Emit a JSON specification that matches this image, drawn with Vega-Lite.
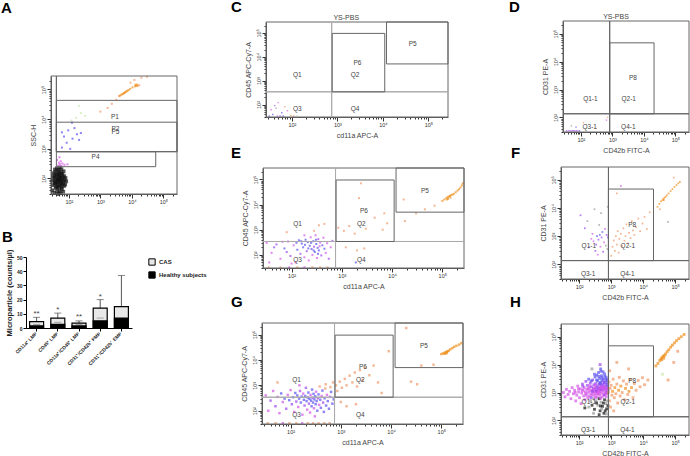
{"$schema":"https://vega.github.io/schema/vega-lite/v6.json","padding":{"left":1,"top":-1,"right":0,"bottom":0},"background":"white","bounds":"flush","spacing":236,
"config":{"view":{"stroke":null},"range":{"category":["#5a50f0","#999999","#111111","#cfe8b0","#d455e8","#f0901e","#9b45f0","#f0986a"]},"axis":{"grid":false,"labelFont":"Liberation Sans","labelFontSize":5.5,"labelColor":"#333","titleFont":"Liberation Sans","titleFontWeight":"normal","titleFontSize":7,"titleColor":"#444","tickColor":"#333","domainColor":"#555","labelPadding":1,"labelOverlap":false,"titlePadding":5},"axisX":{"titlePadding":3.5},"title":{"font":"Liberation Sans","fontSize":15,"fontWeight":"bold","anchor":"start","frame":"group","offset":0,"color":"#000","baseline":"alphabetic"},"text":{"font":"Liberation Sans"}},
"datasets":{
"gA":[{"x":27,"x2":270000,"y":30,"y2":285000,"k":"f"},{"x":40,"x2":40,"y":800,"y2":285000,"k":"g"},{"x":40,"x2":270000,"y":800,"y2":43000,"k":"g"},{"x":40,"x2":270000,"y":800,"y2":7900,"k":"g"},{"x":40,"x2":57000,"y":250,"y2":800,"k":"g"}],
"gC":[{"x":27,"x2":270000,"y":30,"y2":285000,"k":"f"},{"x":750,"x2":750,"y":30,"y2":285000,"k":"q"},{"x":27,"x2":270000,"y":340,"y2":340,"k":"q"},{"x":770,"x2":11000,"y":340,"y2":95000,"k":"g"},{"x":12000,"x2":270000,"y":5000,"y2":285000,"k":"g"}],
"gD":[{"x":27,"x2":270000,"y":30,"y2":285000,"k":"f"},{"x":820,"x2":820,"y":30,"y2":285000,"k":"g"},{"x":27,"x2":270000,"y":135,"y2":135,"k":"g"},{"x":820,"x2":21000,"y":135,"y2":47000,"k":"g"}],
"tA":[{"x":2900,"y":12000,"t":"P1"},{"x":3000,"y":4700,"t":"P2"},{"x":3000,"y":3700,"t":"P5"},{"x":700,"y":550,"t":"P4"}],
"tC":[{"x":131,"y":1660,"t":"Q1"},{"x":2450,"y":1660,"t":"Q2"},{"x":131,"y":65,"t":"Q3"},{"x":2450,"y":65,"t":"Q4"},{"x":2760,"y":5500,"t":"P6"},{"x":45000,"y":35000,"t":"P5"}],
"tD":[{"x":200,"y":450,"t":"Q1-1"},{"x":3300,"y":450,"t":"Q2-1"},{"x":190,"y":45,"t":"Q3-1"},{"x":3200,"y":45,"t":"Q4-1"},{"x":4500,"y":2500,"t":"P8"}],
"pA":[{"x":30,"y":40,"g":"k"},{"x":34,"y":33,"g":"k"},{"x":38,"y":48,"g":"k"},{"x":42,"y":35,"g":"k"},{"x":46,"y":30,"g":"k"},{"x":50,"y":38,"g":"k"},{"x":55,"y":32,"g":"k"},{"x":60,"y":44,"g":"k"},{"x":66,"y":36,"g":"k"},{"x":31,"y":60,"g":"k"},{"x":36,"y":66,"g":"k"},{"x":40,"y":55,"g":"k"},{"x":44,"y":62,"g":"k"},{"x":48,"y":52,"g":"k"},{"x":53,"y":58,"g":"k"},{"x":58,"y":50,"g":"k"},{"x":63,"y":64,"g":"k"},{"x":70,"y":56,"g":"k"},{"x":76,"y":62,"g":"k"},{"x":30,"y":85,"g":"k"},{"x":35,"y":78,"g":"k"},{"x":39,"y":92,"g":"k"},{"x":43,"y":74,"g":"k"},{"x":47,"y":88,"g":"k"},{"x":51,"y":72,"g":"k"},{"x":56,"y":82,"g":"k"},{"x":61,"y":94,"g":"k"},{"x":67,"y":76,"g":"k"},{"x":73,"y":88,"g":"k"},{"x":82,"y":80,"g":"k"},{"x":32,"y":112,"g":"k"},{"x":36,"y":104,"g":"k"},{"x":41,"y":125,"g":"k"},{"x":45,"y":100,"g":"k"},{"x":49,"y":116,"g":"k"},{"x":54,"y":106,"g":"k"},{"x":59,"y":130,"g":"k"},{"x":64,"y":110,"g":"k"},{"x":71,"y":120,"g":"k"},{"x":78,"y":104,"g":"k"},{"x":33,"y":150,"g":"k"},{"x":37,"y":165,"g":"k"},{"x":42,"y":140,"g":"k"},{"x":46,"y":172,"g":"k"},{"x":50,"y":148,"g":"k"},{"x":55,"y":160,"g":"k"},{"x":62,"y":145,"g":"k"},{"x":68,"y":175,"g":"k"},{"x":36,"y":200,"g":"k"},{"x":41,"y":220,"g":"k"},{"x":47,"y":195,"g":"k"},{"x":52,"y":235,"g":"k"},{"x":58,"y":205,"g":"k"},{"x":44,"y":84,"g":"k"},{"x":38,"y":72,"g":"k"},{"x":52,"y":95,"g":"k"},{"x":57,"y":68,"g":"k"},{"x":48,"y":130,"g":"k"},{"x":35,"y":125,"g":"k"},{"x":43,"y":46,"g":"k"},
{"x":45,"y":270,"g":"m"},{"x":52,"y":300,"g":"m"},{"x":58,"y":260,"g":"m"},{"x":48,"y":340,"g":"m"},{"x":62,"y":320,"g":"m"},{"x":42,"y":420,"g":"m"},{"x":55,"y":380,"g":"m"},{"x":72,"y":290,"g":"m"},{"x":90,"y":300,"g":"m"},{"x":50,"y":520,"g":"m"},
{"x":60,"y":1100,"g":"b"},{"x":85,"y":1600,"g":"b"},{"x":110,"y":1000,"g":"b"},{"x":70,"y":2600,"g":"b"},{"x":130,"y":2200,"g":"b"},{"x":180,"y":3100,"g":"b"},{"x":95,"y":4200,"g":"b"},{"x":150,"y":5000,"g":"b"},{"x":60,"y":3600,"g":"b"},{"x":210,"y":2000,"g":"b"},{"x":125,"y":7600,"g":"b"},{"x":240,"y":3400,"g":"b"},
{"x":170,"y":11000,"g":"l"},{"x":240,"y":16000,"g":"l"},{"x":330,"y":13000,"g":"l"},{"x":210,"y":28000,"g":"l"},{"x":120,"y":9000,"g":"l"},
{"x":1000,"y":18000,"g":"s"},{"x":1700,"y":24000,"g":"s"},{"x":2300,"y":33000,"g":"s"},{"x":3200,"y":45000,"g":"s"},{"x":3900,"y":60000,"g":"s"},{"x":9000,"y":170000,"g":"s"},{"x":12000,"y":210000,"g":"s"},{"x":20000,"y":250000,"g":"s"},{"x":17000,"y":140000,"g":"s"},{"x":30000,"y":270000,"g":"s"},
{"x":4200,"y":62000,"g":"o"},{"x":4600,"y":66000,"g":"o"},{"x":5000,"y":70000,"g":"o"},{"x":5300,"y":72000,"g":"o"},{"x":5600,"y":76000,"g":"o"},{"x":6000,"y":78000,"g":"o"},{"x":6300,"y":83000,"g":"o"},{"x":6700,"y":86000,"g":"o"},{"x":7200,"y":90000,"g":"o"},{"x":7800,"y":96000,"g":"o"},{"x":8800,"y":105000,"g":"o"},{"x":10500,"y":118000,"g":"o"},{"x":12500,"y":128000,"g":"o"},{"x":13500,"y":135000,"g":"o"},{"x":14500,"y":145000,"g":"o"},{"x":13000,"y":145000,"g":"o"},{"x":15000,"y":130000,"g":"o"}],
"pC":[{"x":35,"y":60,"g":"m"},{"x":42,"y":90,"g":"p"},{"x":50,"y":120,"g":"m"},{"x":60,"y":45,"g":"b"},{"x":38,"y":38,"g":"b"},{"x":55,"y":33,"g":"p"},{"x":70,"y":80,"g":"s"},{"x":45,"y":70,"g":"g"},{"x":95,"y":35,"g":"o"},{"x":80,"y":55,"g":"m"},{"x":32,"y":33,"g":"b"},{"x":48,"y":33,"g":"m"},{"x":65,"y":33,"g":"b"},{"x":110,"y":33,"g":"s"},{"x":130,"y":35,"g":"l"}],
"pD":[{"x":35,"y":33,"g":"p"},{"x":40,"y":33,"g":"m"},{"x":45,"y":33,"g":"b"},{"x":50,"y":33,"g":"m"},{"x":55,"y":33,"g":"p"},{"x":60,"y":33,"g":"b"},{"x":65,"y":33,"g":"m"},{"x":72,"y":33,"g":"p"},{"x":80,"y":33,"g":"m"},{"x":90,"y":33,"g":"b"},{"x":50,"y":50,"g":"g"},{"x":70,"y":45,"g":"b"},{"x":120,"y":65,"g":"s"},{"x":300,"y":40,"g":"s"},{"x":650,"y":80,"g":"m"},{"x":700,"y":100,"g":"s"},{"x":150,"y":40,"g":"l"}],
"pE":[{"x":32,"y":300,"g":"m"},{"x":40,"y":120,"g":"m"},{"x":50,"y":260,"g":"p"},{"x":60,"y":70,"g":"m"},{"x":72,"y":180,"g":"b"},{"x":85,"y":340,"g":"m"},{"x":95,"y":90,"g":"p"},{"x":110,"y":240,"g":"m"},{"x":120,"y":50,"g":"m"},{"x":130,"y":160,"g":"b"},{"x":140,"y":380,"g":"b"},{"x":150,"y":110,"g":"p"},{"x":160,"y":280,"g":"b"},{"x":170,"y":200,"g":"b"},{"x":180,"y":80,"g":"m"},{"x":190,"y":400,"g":"b"},{"x":200,"y":140,"g":"p"},{"x":210,"y":320,"g":"b"},{"x":220,"y":60,"g":"m"},{"x":230,"y":230,"g":"b"},{"x":240,"y":500,"g":"m"},{"x":250,"y":170,"g":"b"},{"x":260,"y":100,"g":"m"},{"x":270,"y":350,"g":"b"},{"x":280,"y":210,"g":"p"},{"x":290,"y":130,"g":"b"},{"x":300,"y":600,"g":"m"},{"x":310,"y":270,"g":"b"},{"x":320,"y":75,"g":"m"},{"x":330,"y":190,"g":"b"},{"x":340,"y":420,"g":"p"},{"x":350,"y":150,"g":"b"},{"x":370,"y":310,"g":"m"},{"x":390,"y":95,"g":"p"},{"x":410,"y":240,"g":"b"},{"x":430,"y":480,"g":"m"},{"x":450,"y":175,"g":"b"},{"x":480,"y":120,"g":"m"},{"x":510,"y":290,"g":"m"},{"x":550,"y":70,"g":"p"},{"x":600,"y":200,"g":"m"},{"x":650,"y":360,"g":"p"},{"x":36,"y":50,"g":"m"},{"x":45,"y":200,"g":"p"},{"x":66,"y":330,"g":"m"},{"x":80,"y":130,"g":"p"},{"x":100,"y":45,"g":"m"},{"x":125,"y":300,"g":"b"},{"x":155,"y":350,"g":"b"},{"x":185,"y":250,"g":"b"},{"x":215,"y":180,"g":"b"},{"x":245,"y":300,"g":"b"},{"x":275,"y":150,"g":"b"},{"x":305,"y":400,"g":"b"},{"x":335,"y":110,"g":"b"},{"x":360,"y":220,"g":"m"},{"x":35,"y":32,"g":"s"},{"x":60,"y":32,"g":"s"},{"x":90,"y":32,"g":"m"},{"x":130,"y":32,"g":"s"},{"x":180,"y":32,"g":"m"},{"x":260,"y":32,"g":"s"},{"x":370,"y":32,"g":"s"},{"x":520,"y":32,"g":"s"},{"x":80,"y":800,"g":"s"},{"x":180,"y":600,"g":"m"},{"x":350,"y":1500,"g":"s"},{"x":450,"y":1700,"g":"s"},{"x":280,"y":900,"g":"s"},{"x":850,"y":1200,"g":"s"},{"x":1100,"y":900,"g":"s"},{"x":1400,"y":1400,"g":"s"},{"x":1800,"y":700,"g":"s"},{"x":3000,"y":1100,"g":"s"},{"x":6500,"y":1000,"g":"s"},{"x":8000,"y":1800,"g":"s"},{"x":2200,"y":18000,"g":"s"},{"x":7000,"y":4500,"g":"s"},{"x":2400,"y":70000,"g":"s"},{"x":4500,"y":3000,"g":"s"},{"x":1200,"y":200,"g":"s"},{"x":2000,"y":150,"g":"s"},{"x":2800,"y":180,"g":"s"},{"x":1900,"y":50,"g":"b"},{"x":18000,"y":2200,"g":"s"},{"x":30000,"y":4500,"g":"s"},{"x":17000,"y":16000,"g":"s"},{"x":45000,"y":6500,"g":"s"},{"x":70000,"y":9000,"g":"s"},
{"x":100000,"y":14000,"g":"o"},{"x":110000,"y":16000,"g":"o"},{"x":120000,"y":18000,"g":"o"},{"x":128000,"y":20000,"g":"o"},{"x":135000,"y":21000,"g":"o"},{"x":142000,"y":22000,"g":"o"},{"x":150000,"y":24000,"g":"o"},{"x":160000,"y":25000,"g":"o"},{"x":170000,"y":27000,"g":"o"},{"x":185000,"y":31000,"g":"o"},{"x":200000,"y":36000,"g":"o"},{"x":215000,"y":41000,"g":"o"},{"x":230000,"y":48000,"g":"o"},{"x":245000,"y":58000,"g":"o"},{"x":255000,"y":70000,"g":"o"},{"x":130000,"y":17000,"g":"o"},{"x":145000,"y":19000,"g":"o"},{"x":125000,"y":16000,"g":"o"}],
"pF":[{"x":110,"y":5500,"g":"p"},{"x":150,"y":1900,"g":"p"},{"x":180,"y":3400,"g":"g"},{"x":200,"y":400,"g":"p"},{"x":240,"y":800,"g":"m"},{"x":260,"y":1200,"g":"m"},{"x":280,"y":650,"g":"m"},{"x":300,"y":9000,"g":"g"},{"x":320,"y":300,"g":"p"},{"x":340,"y":500,"g":"p"},{"x":360,"y":1000,"g":"b"},{"x":380,"y":220,"g":"m"},{"x":400,"y":750,"g":"p"},{"x":420,"y":2500,"g":"g"},{"x":440,"y":1100,"g":"b"},{"x":460,"y":420,"g":"m"},{"x":480,"y":6500,"g":"g"},{"x":500,"y":900,"g":"p"},{"x":530,"y":1400,"g":"b"},{"x":560,"y":280,"g":"p"},{"x":600,"y":600,"g":"m"},{"x":640,"y":1800,"g":"m"},{"x":680,"y":460,"g":"g"},{"x":720,"y":1100,"g":"p"},{"x":760,"y":350,"g":"g"},{"x":790,"y":900,"g":"p"},{"x":780,"y":11000,"g":"g"},{"x":2000,"y":60000,"g":"m"},{"x":1000,"y":200,"g":"s"},{"x":1100,"y":420,"g":"s"},{"x":1200,"y":700,"g":"s"},{"x":1300,"y":300,"g":"s"},{"x":1400,"y":1000,"g":"s"},{"x":1500,"y":500,"g":"s"},{"x":1600,"y":1500,"g":"s"},{"x":1700,"y":260,"g":"s"},{"x":1800,"y":800,"g":"s"},{"x":2000,"y":1200,"g":"s"},{"x":2200,"y":450,"g":"s"},{"x":2400,"y":1900,"g":"s"},{"x":2600,"y":680,"g":"s"},{"x":2800,"y":1000,"g":"s"},{"x":3000,"y":2600,"g":"s"},{"x":3300,"y":560,"g":"s"},{"x":3600,"y":1300,"g":"s"},{"x":4000,"y":850,"g":"s"},{"x":4400,"y":3400,"g":"s"},{"x":4800,"y":1600,"g":"s"},{"x":5300,"y":1100,"g":"s"},{"x":6000,"y":2100,"g":"s"},{"x":7000,"y":4200,"g":"s"},{"x":8000,"y":1500,"g":"s"},{"x":9500,"y":2800,"g":"s"},{"x":11000,"y":4800,"g":"s"},{"x":13000,"y":1800,"g":"s"},{"x":16000,"y":7000,"g":"s"},{"x":1500,"y":33000,"g":"s"},{"x":60000,"y":3200,"g":"g"},{"x":33000,"y":9000,"g":"s"},{"x":90000,"y":120000,"g":"s"},
{"x":28000,"y":11000,"g":"o"},{"x":32000,"y":14000,"g":"o"},{"x":36000,"y":17000,"g":"o"},{"x":40000,"y":19000,"g":"o"},{"x":43000,"y":21000,"g":"o"},{"x":46000,"y":23000,"g":"o"},{"x":50000,"y":25000,"g":"o"},{"x":44000,"y":19000,"g":"o"},{"x":55000,"y":28000,"g":"o"},{"x":62000,"y":33000,"g":"o"},{"x":72000,"y":40000,"g":"o"},{"x":82000,"y":47000,"g":"o"},{"x":95000,"y":56000,"g":"o"},{"x":110000,"y":65000,"g":"o"},{"x":125000,"y":75000,"g":"o"},{"x":140000,"y":85000,"g":"o"}],
"pG":[{"x":32,"y":400,"g":"m"},{"x":36,"y":100,"g":"m"},{"x":40,"y":250,"g":"p"},{"x":45,"y":600,"g":"m"},{"x":50,"y":150,"g":"p"},{"x":55,"y":350,"g":"m"},{"x":60,"y":80,"g":"m"},{"x":65,"y":480,"g":"b"},{"x":70,"y":220,"g":"m"},{"x":76,"y":300,"g":"b"},{"x":82,"y":120,"g":"p"},{"x":88,"y":420,"g":"m"},{"x":94,"y":260,"g":"b"},{"x":100,"y":650,"g":"m"},{"x":106,"y":180,"g":"p"},{"x":112,"y":340,"g":"b"},{"x":118,"y":90,"g":"m"},{"x":124,"y":500,"g":"b"},{"x":130,"y":230,"g":"p"},{"x":136,"y":400,"g":"b"},{"x":142,"y":140,"g":"m"},{"x":148,"y":300,"g":"b"},{"x":154,"y":600,"g":"p"},{"x":160,"y":210,"g":"b"},{"x":166,"y":360,"g":"b"},{"x":172,"y":70,"g":"m"},{"x":178,"y":470,"g":"m"},{"x":184,"y":270,"g":"b"},{"x":190,"y":160,"g":"p"},{"x":196,"y":380,"g":"b"},{"x":202,"y":800,"g":"p"},{"x":208,"y":240,"g":"b"},{"x":214,"y":110,"g":"m"},{"x":220,"y":330,"g":"b"},{"x":226,"y":520,"g":"b"},{"x":232,"y":190,"g":"p"},{"x":238,"y":290,"g":"b"},{"x":244,"y":85,"g":"m"},{"x":250,"y":420,"g":"m"},{"x":256,"y":250,"g":"b"},{"x":262,"y":150,"g":"b"},{"x":268,"y":680,"g":"b"},{"x":274,"y":320,"g":"p"},{"x":280,"y":210,"g":"b"},{"x":286,"y":460,"g":"b"},{"x":292,"y":125,"g":"m"},{"x":298,"y":280,"g":"b"},{"x":304,"y":60,"g":"m"},{"x":310,"y":370,"g":"b"},{"x":316,"y":180,"g":"b"},{"x":322,"y":560,"g":"m"},{"x":330,"y":240,"g":"b"},{"x":340,"y":100,"g":"b"},{"x":350,"y":310,"g":"p"},{"x":360,"y":440,"g":"b"},{"x":370,"y":170,"g":"m"},{"x":380,"y":900,"g":"s"},{"x":390,"y":270,"g":"b"},{"x":400,"y":130,"g":"b"},{"x":415,"y":380,"g":"m"},{"x":430,"y":620,"g":"b"},{"x":445,"y":210,"g":"p"},{"x":460,"y":90,"g":"b"},{"x":475,"y":310,"g":"b"},{"x":490,"y":750,"g":"s"},{"x":510,"y":160,"g":"b"},{"x":530,"y":420,"g":"m"},{"x":550,"y":240,"g":"b"},{"x":580,"y":120,"g":"b"},{"x":610,"y":350,"g":"p"},{"x":640,"y":550,"g":"b"},{"x":680,"y":190,"g":"b"},{"x":720,"y":280,"g":"b"},{"x":500,"y":1100,"g":"s"},{"x":620,"y":850,"g":"s"},{"x":700,"y":1300,"g":"s"},{"x":150,"y":1000,"g":"m"},{"x":55,"y":1300,"g":"s"},{"x":35,"y":32,"g":"s"},{"x":50,"y":32,"g":"s"},{"x":70,"y":32,"g":"m"},{"x":95,"y":32,"g":"s"},{"x":130,"y":32,"g":"s"},{"x":170,"y":32,"g":"m"},{"x":220,"y":32,"g":"s"},{"x":280,"y":32,"g":"s"},{"x":360,"y":32,"g":"s"},{"x":470,"y":32,"g":"s"},{"x":600,"y":32,"g":"s"},{"x":800,"y":1000,"g":"s"},{"x":850,"y":600,"g":"s"},{"x":950,"y":1400,"g":"s"},{"x":1050,"y":800,"g":"s"},{"x":1200,"y":1800,"g":"s"},{"x":1300,"y":1000,"g":"s"},{"x":1500,"y":2400,"g":"s"},{"x":1700,"y":1300,"g":"s"},{"x":1900,"y":3200,"g":"s"},{"x":2100,"y":900,"g":"s"},{"x":2400,"y":4000,"g":"s"},{"x":2700,"y":1600,"g":"s"},{"x":3100,"y":5000,"g":"s"},{"x":3700,"y":2500,"g":"s"},{"x":4500,"y":6000,"g":"s"},{"x":5500,"y":1300,"g":"s"},{"x":6500,"y":500,"g":"s"},{"x":9000,"y":22000,"g":"s"},{"x":1000,"y":220,"g":"s"},{"x":1300,"y":150,"g":"s"},{"x":2000,"y":180,"g":"s"},{"x":25000,"y":1400,"g":"s"},{"x":33000,"y":1100,"g":"s"},{"x":40000,"y":6000,"g":"s"},{"x":20000,"y":180000,"g":"s"},{"x":70000,"y":6500,"g":"s"},
{"x":100000,"y":17000,"g":"o"},{"x":108000,"y":18000,"g":"o"},{"x":116000,"y":19000,"g":"o"},{"x":122000,"y":20000,"g":"o"},{"x":128000,"y":21000,"g":"o"},{"x":134000,"y":22000,"g":"o"},{"x":140000,"y":23000,"g":"o"},{"x":118000,"y":17500,"g":"o"},{"x":128000,"y":18500,"g":"o"},{"x":150000,"y":26000,"g":"o"},{"x":165000,"y":29000,"g":"o"},{"x":180000,"y":33000,"g":"o"},{"x":200000,"y":36000,"g":"o"},{"x":225000,"y":40000,"g":"o"},{"x":250000,"y":46000,"g":"o"}],
"pH":[{"x":32,"y":1000,"g":"m"},{"x":36,"y":700,"g":"m"},{"x":40,"y":1300,"g":"m"},{"x":45,"y":850,"g":"m"},{"x":50,"y":1100,"g":"m"},{"x":55,"y":600,"g":"m"},{"x":60,"y":1500,"g":"m"},{"x":66,"y":900,"g":"m"},{"x":72,"y":1200,"g":"m"},{"x":78,"y":500,"g":"m"},{"x":84,"y":800,"g":"m"},{"x":90,"y":1700,"g":"m"},{"x":96,"y":1050,"g":"m"},{"x":102,"y":650,"g":"m"},{"x":108,"y":1350,"g":"m"},{"x":114,"y":400,"g":"m"},{"x":120,"y":950,"g":"m"},{"x":126,"y":2000,"g":"p"},{"x":132,"y":1250,"g":"m"},{"x":138,"y":750,"g":"m"},{"x":144,"y":1500,"g":"m"},{"x":150,"y":550,"g":"m"},{"x":156,"y":1050,"g":"m"},{"x":162,"y":2500,"g":"p"},{"x":168,"y":800,"g":"m"},{"x":174,"y":1300,"g":"m"},{"x":180,"y":1800,"g":"p"},{"x":186,"y":650,"g":"m"},{"x":192,"y":1000,"g":"m"},{"x":198,"y":3000,"g":"b"},{"x":204,"y":1450,"g":"m"},{"x":210,"y":750,"g":"m"},{"x":216,"y":1150,"g":"m"},{"x":222,"y":2200,"g":"p"},{"x":228,"y":500,"g":"g"},{"x":234,"y":900,"g":"m"},{"x":240,"y":1600,"g":"p"},{"x":246,"y":1200,"g":"m"},{"x":252,"y":350,"g":"k"},{"x":258,"y":800,"g":"m"},{"x":264,"y":2800,"g":"p"},{"x":270,"y":1000,"g":"m"},{"x":276,"y":1400,"g":"p"},{"x":282,"y":600,"g":"g"},{"x":288,"y":1900,"g":"p"},{"x":294,"y":1100,"g":"m"},{"x":300,"y":250,"g":"k"},{"x":306,"y":800,"g":"m"},{"x":312,"y":3600,"g":"b"},{"x":318,"y":1300,"g":"m"},{"x":324,"y":950,"g":"m"},{"x":330,"y":2100,"g":"p"},{"x":336,"y":500,"g":"g"},{"x":342,"y":1500,"g":"p"},{"x":348,"y":1100,"g":"m"},{"x":354,"y":4200,"g":"b"},{"x":360,"y":700,"g":"m"},{"x":366,"y":1700,"g":"p"},{"x":372,"y":1200,"g":"m"},{"x":378,"y":2600,"g":"b"},{"x":384,"y":350,"g":"g"},{"x":390,"y":900,"g":"m"},{"x":396,"y":1400,"g":"p"},{"x":402,"y":5200,"g":"b"},{"x":408,"y":1000,"g":"m"},{"x":414,"y":2000,"g":"p"},{"x":420,"y":600,"g":"k"},{"x":426,"y":1250,"g":"p"},{"x":432,"y":3200,"g":"b"},{"x":438,"y":800,"g":"m"},{"x":444,"y":1600,"g":"p"},{"x":450,"y":220,"g":"k"},{"x":456,"y":1100,"g":"m"},{"x":462,"y":2300,"g":"b"},{"x":468,"y":7000,"g":"b"},{"x":474,"y":1350,"g":"p"},{"x":480,"y":450,"g":"g"},{"x":486,"y":1800,"g":"p"},{"x":492,"y":950,"g":"m"},{"x":498,"y":4000,"g":"b"},{"x":505,"y":1250,"g":"p"},{"x":512,"y":2700,"g":"b"},{"x":520,"y":700,"g":"m"},{"x":528,"y":1500,"g":"p"},{"x":536,"y":320,"g":"k"},{"x":544,"y":2000,"g":"p"},{"x":552,"y":1100,"g":"m"},{"x":560,"y":5500,"g":"b"},{"x":568,"y":1700,"g":"p"},{"x":576,"y":3000,"g":"b"},{"x":584,"y":850,"g":"m"},{"x":592,"y":180,"g":"k"},{"x":600,"y":1300,"g":"p"},{"x":610,"y":2300,"g":"b"},{"x":620,"y":550,"g":"k"},{"x":630,"y":1500,"g":"p"},{"x":640,"y":3800,"g":"b"},{"x":650,"y":1000,"g":"m"},{"x":660,"y":2000,"g":"p"},{"x":670,"y":400,"g":"g"},{"x":680,"y":1300,"g":"p"},{"x":690,"y":2800,"g":"b"},{"x":700,"y":700,"g":"m"},{"x":710,"y":1700,"g":"p"},{"x":720,"y":260,"g":"k"},{"x":730,"y":1150,"g":"m"},{"x":740,"y":2300,"g":"b"},{"x":750,"y":500,"g":"g"},{"x":760,"y":1450,"g":"p"},{"x":770,"y":900,"g":"m"},{"x":780,"y":1900,"g":"b"},{"x":790,"y":340,"g":"k"},{"x":800,"y":1200,"g":"m"},{"x":200,"y":300,"g":"g"},{"x":350,"y":420,"g":"k"},{"x":280,"y":180,"g":"g"},{"x":500,"y":260,"g":"g"},{"x":420,"y":160,"g":"k"},{"x":650,"y":220,"g":"k"},{"x":150,"y":280,"g":"k"},{"x":700,"y":170,"g":"g"},{"x":570,"y":420,"g":"k"},{"x":460,"y":330,"g":"k"},{"x":250,"y":7000,"g":"g"},{"x":450,"y":10000,"g":"p"},
{"x":310,"y":1750,"g":"m"},{"x":130,"y":1700,"g":"p"},{"x":470,"y":620,"g":"m"},{"x":190,"y":1350,"g":"m"},{"x":640,"y":1400,"g":"m"},{"x":370,"y":900,"g":"m"},{"x":95,"y":1350,"g":"m"},{"x":720,"y":1000,"g":"p"},{"x":235,"y":650,"g":"p"},{"x":540,"y":1250,"g":"m"},{"x":290,"y":1350,"g":"m"},{"x":160,"y":900,"g":"m"},{"x":430,"y":1450,"g":"m"},{"x":610,"y":800,"g":"p"},{"x":75,"y":1000,"g":"m"},{"x":340,"y":1150,"g":"p"},{"x":500,"y":1550,"g":"m"},{"x":215,"y":1750,"g":"m"},{"x":780,"y":1500,"g":"m"},{"x":260,"y":1100,"g":"p"},{"x":400,"y":1150,"g":"m"},{"x":125,"y":1150,"g":"m"},{"x":680,"y":900,"g":"m"},{"x":560,"y":1500,"g":"m"},{"x":320,"y":650,"g":"m"},{"x":450,"y":2100,"g":"b"},{"x":590,"y":2400,"g":"p"},{"x":350,"y":2800,"g":"b"},{"x":700,"y":3400,"g":"b"},{"x":240,"y":2600,"g":"b"},{"x":520,"y":3400,"g":"b"},{"x":620,"y":4600,"g":"b"},{"x":410,"y":3800,"g":"b"},{"x":760,"y":2800,"g":"b"},{"x":300,"y":4500,"g":"b"},{"x":480,"y":5800,"g":"b"},
{"x":820,"y":1000,"g":"s"},{"x":850,"y":2400,"g":"s"},{"x":880,"y":500,"g":"s"},{"x":920,"y":1400,"g":"s"},{"x":960,"y":300,"g":"s"},{"x":1000,"y":1800,"g":"s"},{"x":1050,"y":800,"g":"s"},{"x":1100,"y":1100,"g":"o"},{"x":1150,"y":3000,"g":"s"},{"x":1200,"y":220,"g":"s"},{"x":1250,"y":650,"g":"s"},{"x":1300,"y":1500,"g":"o"},{"x":1400,"y":900,"g":"s"},{"x":1500,"y":2000,"g":"s"},{"x":1600,"y":420,"g":"s"},{"x":1700,"y":1200,"g":"o"},{"x":1800,"y":3500,"g":"s"},{"x":1900,"y":750,"g":"s"},{"x":2000,"y":1700,"g":"o"},{"x":2200,"y":1000,"g":"s"},{"x":2400,"y":2600,"g":"s"},{"x":2600,"y":550,"g":"s"},{"x":2800,"y":1400,"g":"o"},{"x":3000,"y":2000,"g":"s"},{"x":3300,"y":850,"g":"s"},{"x":3600,"y":1100,"g":"o"},{"x":3900,"y":2900,"g":"s"},{"x":4300,"y":1500,"g":"o"},{"x":4800,"y":650,"g":"s"},{"x":5300,"y":2100,"g":"s"},{"x":6000,"y":1200,"g":"s"},{"x":7000,"y":2700,"g":"s"},{"x":8000,"y":1600,"g":"s"},{"x":9500,"y":3400,"g":"s"},{"x":11000,"y":1900,"g":"s"},{"x":14000,"y":2800,"g":"s"},{"x":1500,"y":12000,"g":"s"},{"x":900,"y":6000,"g":"s"},{"x":3500,"y":7000,"g":"s"},{"x":60000,"y":2800,"g":"s"},{"x":90000,"y":12000,"g":"s"},{"x":120000,"y":30000,"g":"s"},{"x":40000,"y":4500,"g":"l"},
{"x":25000,"y":9000,"g":"o"},{"x":29000,"y":11000,"g":"o"},{"x":33000,"y":14000,"g":"o"},{"x":36000,"y":16000,"g":"o"},{"x":39000,"y":18000,"g":"o"},{"x":42000,"y":20000,"g":"o"},{"x":38000,"y":15000,"g":"o"},{"x":44000,"y":17000,"g":"o"},{"x":46000,"y":21000,"g":"o"},{"x":50000,"y":24000,"g":"o"},{"x":56000,"y":29000,"g":"o"},{"x":63000,"y":34000,"g":"o"},{"x":72000,"y":42000,"g":"o"},{"x":82000,"y":50000,"g":"o"},{"x":95000,"y":60000,"g":"o"},{"x":110000,"y":72000,"g":"o"},{"x":130000,"y":85000,"g":"o"},{"x":155000,"y":100000,"g":"o"},{"x":190000,"y":120000,"g":"o"}],
"bars":[{"c":"CD11a⁺ LMP","s":"CAS","v":4.5,"hi":7.5,"star":"**","sy":10},{"c":"CD11a⁺ LMP","s":"Healthy subjects","v":1.5,"hi":2.5},{"c":"CD45⁺ LMP","s":"CAS","v":7,"hi":10.5,"star":"*","sy":13},{"c":"CD45⁺ LMP","s":"Healthy subjects","v":2.5,"hi":4},{"c":"CD11a⁺/CD45⁺ LMP","s":"CAS","v":3.5,"hi":5,"star":"**","sy":8},{"c":"CD11a⁺/CD45⁺ LMP","s":"Healthy subjects","v":1.5,"hi":2.5},{"c":"CD31⁺/CD42b⁺ PMP","s":"CAS","v":14,"hi":20,"star":"*","sy":22},{"c":"CD31⁺/CD42b⁺ PMP","s":"Healthy subjects","v":5,"hi":7},{"c":"CD31⁺/CD42b⁻ EMP","s":"CAS","v":15,"hi":37},{"c":"CD31⁺/CD42b⁻ EMP","s":"Healthy subjects","v":7,"hi":7}]
},
"hconcat":[
{"bounds":"flush","spacing":20,"vconcat":[
{"width":151,"height":173,"title":{"text":"A","dx":-25,"dy":-1},
"encoding":{"x":{"field":"x","type":"quantitative","scale":{"type":"log","domain":[27,270000],"nice":false,"range":[25,151]},"axis":{"title":null,"values":[30,40,50,60,70,80,90,100,200,300,400,500,600,700,800,900,1000,2000,3000,4000,5000,6000,7000,8000,9000,10000,20000,30000,40000,50000,60000,70000,80000,90000,100000,200000],"labelExpr":"{'100':'10²','1000':'10³','10000':'10⁴','100000':'10⁵'}[datum.value]||''","tickSize":{"condition":{"test":"indexof([100,1000,10000,100000],datum.value)>=0","value":4},"value":2}}},
"y":{"field":"y","type":"quantitative","scale":{"type":"log","domain":[30,285000],"nice":false,"range":[173,55]},"axis":{"title":"SSC-H","offset":-25,"labelAngle":-90,"labelAlign":"center","labelBaseline":"bottom","values":[30,40,50,60,70,80,90,100,200,300,400,500,600,700,800,900,1000,2000,3000,4000,5000,6000,7000,8000,9000,10000,20000,30000,40000,50000,60000,70000,80000,90000,100000,200000],"labelExpr":"{'100':'10²','1000':'10³','10000':'10⁴','100000':'10⁵'}[datum.value]||''","tickSize":{"condition":{"test":"indexof([100,1000,10000,100000],datum.value)>=0","value":4},"value":2}}}},
"layer":[{"data":{"name":"pA"},"transform":[{"filter":"datum.g=='k'"}],"mark":{"type":"square","size":14},"encoding":{"fill":{"field":"g","scale":{"domain":["b","g","k","l","m","o","p","s"]},"legend":null}}},{"data":{"name":"pA"},"transform":[{"filter":"datum.g!='k'"}],"mark":{"type":"square","size":4},"encoding":{"fill":{"field":"g","scale":{"domain":["b","g","k","l","m","o","p","s"]},"legend":null}}},{"data":{"name":"gA"},"mark":{"type":"rect","fillOpacity":0,"strokeWidth":1},"encoding":{"x2":{"field":"x2"},"y2":{"field":"y2"},"stroke":{"field":"k","scale":{"domain":["f","g","q"],"range":["#666","#666","#aaa"]},"legend":null}}},{"data":{"name":"tA"},"mark":{"type":"text","fontSize":6.5,"color":"#444"},"encoding":{"text":{"field":"t"}}}]},
{"width":151,"height":114,"title":{"text":"B","dx":-24,"dy":35},
"data":{"name":"bars"},
"encoding":{"x":{"field":"c","type":"nominal","sort":null,"scale":{"range":[0,106],"paddingInner":0.3,"paddingOuter":0.15},"axis":{"title":null,"labelAngle":-45,"labelAlign":"right","labelBaseline":"middle","labelFontSize":4.8,"labelFontWeight":"bold","labelColor":"#222","tickSize":3,"tickColor":"#000","domainColor":"#000","domainWidth":1,"labelPadding":2}},
"y":{"field":"v","type":"quantitative","stack":null,"scale":{"domain":[0,50],"range":[114,43]},"axis":{"title":"Microparticle (counts/µl)","titleFontSize":7.5,"titleFontWeight":"bold","titleColor":"#222","titleFont":"Liberation Sans","values":[0,10,20,30,40,50],"labelFontSize":5,"labelFontWeight":"bold","labelColor":"#222","tickSize":3,"tickColor":"#000","domainColor":"#000","domainWidth":1,"titlePadding":3}}},
"layer":[
{"transform":[{"filter":"datum.s=='CAS'"}],"mark":{"type":"rule","color":"#555","strokeWidth":1},"encoding":{"y2":{"field":"hi"}}},
{"transform":[{"filter":"datum.s=='CAS'"}],"mark":{"type":"tick","color":"#555","thickness":1,"size":7},"encoding":{"y":{"field":"hi","type":"quantitative"}}},
{"mark":{"type":"bar","stroke":"#000","strokeWidth":1.2,"width":14},"encoding":{"color":{"field":"s","type":"nominal","sort":null,"scale":{"domain":["CAS","Healthy subjects"],"range":["#e8e8e8","#000000"]},"legend":{"title":null,"orient":"none","legendX":122,"legendY":237,"symbolType":"square","symbolSize":40,"symbolStrokeColor":"#000","symbolStrokeWidth":1,"labelFont":"Liberation Sans","labelFontSize":6,"labelFontWeight":"bold","labelColor":"#222","rowPadding":1,"labelOffset":3}}}},
{"transform":[{"filter":"datum.s=='Healthy subjects' && datum.c!='CD31⁺/CD42b⁻ EMP'"}],"mark":{"type":"tick","color":"#888","thickness":1,"size":7},"encoding":{"y":{"field":"hi","type":"quantitative"}}},
{"transform":[{"filter":"datum.star"}],"mark":{"type":"text","fontSize":8,"color":"#444","font":"Liberation Sans"},"encoding":{"y":{"field":"sy","type":"quantitative"},"text":{"field":"star"}}}]}
]},
{"bounds":"flush","spacing":20,"vconcat":[
{"width":202,"height":96,"title":{"text":"C","dx":-31,"dy":5},
"encoding":{"x":{"field":"x","type":"quantitative","scale":{"type":"log","domain":[27,270000],"nice":false,"range":[4,186]},"axis":{"title":"cd11a APC-A","values":[30,40,50,60,70,80,90,100,200,300,400,500,600,700,800,900,1000,2000,3000,4000,5000,6000,7000,8000,9000,10000,20000,30000,40000,50000,60000,70000,80000,90000,100000,200000],"labelExpr":"{'100':'10²','1000':'10³','10000':'10⁴','100000':'10⁵'}[datum.value]||''","tickSize":{"condition":{"test":"indexof([100,1000,10000,100000],datum.value)>=0","value":4},"value":2}}},
"y":{"field":"y","type":"quantitative","scale":{"type":"log","domain":[30,285000],"nice":false,"range":[96,1]},"axis":{"title":"CD45 APC-Cy7-A","offset":-4,"labelAngle":-90,"labelAlign":"center","labelBaseline":"bottom","values":[30,40,50,60,70,80,90,100,200,300,400,500,600,700,800,900,1000,2000,3000,4000,5000,6000,7000,8000,9000,10000,20000,30000,40000,50000,60000,70000,80000,90000,100000,200000],"labelExpr":"{'100':'10²','1000':'10³','10000':'10⁴','100000':'10⁵'}[datum.value]||''","tickSize":{"condition":{"test":"indexof([100,1000,10000,100000],datum.value)>=0","value":4},"value":2}}}},
"layer":[{"data":{"name":"pC"},"mark":{"type":"square","size":2},"encoding":{"fill":{"field":"g","scale":{"domain":["b","g","k","l","m","o","p","s"]},"legend":null}}},{"data":{"name":"gC"},"mark":{"type":"rect","fillOpacity":0,"strokeWidth":1},"encoding":{"x2":{"field":"x2"},"y2":{"field":"y2"},"stroke":{"field":"k","scale":{"domain":["f","g","q"],"range":["#666","#666","#aaa"]},"legend":null}}},{"data":{"name":"tC"},"mark":{"type":"text","fontSize":6.5,"color":"#444"},"encoding":{"text":{"field":"t"}}},{"data":{"values":[{"x":1570,"y":420000,"t":"YS-PBS"}]},"mark":{"type":"text","fontSize":7,"color":"#444"},"encoding":{"text":{"field":"t"}}}]},
{"width":202,"height":131,"title":{"text":"E","dx":-31,"dy":28},
"encoding":{"x":{"field":"x","type":"quantitative","scale":{"type":"log","domain":[27,270000],"nice":false,"range":[1,202]},"axis":{"title":"cd11a APC-A","values":[30,40,50,60,70,80,90,100,200,300,400,500,600,700,800,900,1000,2000,3000,4000,5000,6000,7000,8000,9000,10000,20000,30000,40000,50000,60000,70000,80000,90000,100000,200000],"labelExpr":"{'100':'10²','1000':'10³','10000':'10⁴','100000':'10⁵'}[datum.value]||''","tickSize":{"condition":{"test":"indexof([100,1000,10000,100000],datum.value)>=0","value":4},"value":2}}},
"y":{"field":"y","type":"quantitative","scale":{"type":"log","domain":[30,285000],"nice":false,"range":[131,31]},"axis":{"title":"CD45 APC-Cy7-A","offset":-1,"labelAngle":-90,"labelAlign":"center","labelBaseline":"bottom","values":[30,40,50,60,70,80,90,100,200,300,400,500,600,700,800,900,1000,2000,3000,4000,5000,6000,7000,8000,9000,10000,20000,30000,40000,50000,60000,70000,80000,90000,100000,200000],"labelExpr":"{'100':'10²','1000':'10³','10000':'10⁴','100000':'10⁵'}[datum.value]||''","tickSize":{"condition":{"test":"indexof([100,1000,10000,100000],datum.value)>=0","value":4},"value":2}}}},
"layer":[{"data":{"name":"pE"},"mark":{"type":"square","size":4},"encoding":{"fill":{"field":"g","scale":{"domain":["b","g","k","l","m","o","p","s"]},"legend":null}}},{"data":{"name":"gC"},"mark":{"type":"rect","fillOpacity":0,"strokeWidth":1},"encoding":{"x2":{"field":"x2"},"y2":{"field":"y2"},"stroke":{"field":"k","scale":{"domain":["f","g","q"],"range":["#666","#666","#aaa"]},"legend":null}}},{"data":{"name":"tC"},"mark":{"type":"text","fontSize":6.5,"color":"#444"},"encoding":{"text":{"field":"t"}}}]},
{"width":202,"height":136,"title":{"text":"G","dx":-31,"dy":26},
"encoding":{"x":{"field":"x","type":"quantitative","scale":{"type":"log","domain":[27,270000],"nice":false,"range":[0,201]},"axis":{"title":"cd11a APC-A","values":[30,40,50,60,70,80,90,100,200,300,400,500,600,700,800,900,1000,2000,3000,4000,5000,6000,7000,8000,9000,10000,20000,30000,40000,50000,60000,70000,80000,90000,100000,200000],"labelExpr":"{'100':'10²','1000':'10³','10000':'10⁴','100000':'10⁵'}[datum.value]||''","tickSize":{"condition":{"test":"indexof([100,1000,10000,100000],datum.value)>=0","value":4},"value":2}}},
"y":{"field":"y","type":"quantitative","scale":{"type":"log","domain":[30,285000],"nice":false,"range":[136,35]},"axis":{"title":"CD45 APC-Cy7-A","labelAngle":-90,"labelAlign":"center","labelBaseline":"bottom","values":[30,40,50,60,70,80,90,100,200,300,400,500,600,700,800,900,1000,2000,3000,4000,5000,6000,7000,8000,9000,10000,20000,30000,40000,50000,60000,70000,80000,90000,100000,200000],"labelExpr":"{'100':'10²','1000':'10³','10000':'10⁴','100000':'10⁵'}[datum.value]||''","tickSize":{"condition":{"test":"indexof([100,1000,10000,100000],datum.value)>=0","value":4},"value":2}}}},
"layer":[{"data":{"name":"pG"},"mark":{"type":"square","size":6},"encoding":{"fill":{"field":"g","scale":{"domain":["b","g","k","l","m","o","p","s"]},"legend":null}}},{"data":{"name":"gC"},"mark":{"type":"rect","fillOpacity":0,"strokeWidth":1},"encoding":{"x2":{"field":"x2"},"y2":{"field":"y2"},"stroke":{"field":"k","scale":{"domain":["f","g","q"],"range":["#666","#666","#aaa"]},"legend":null}}},{"data":{"name":"tC"},"mark":{"type":"text","fontSize":6.5,"color":"#444"},"encoding":{"text":{"field":"t"}}}]}
]},
{"bounds":"flush","spacing":20,"vconcat":[
{"width":191,"height":111,"title":{"text":"D","dx":11,"dy":6},
"encoding":{"x":{"field":"x","type":"quantitative","scale":{"type":"log","domain":[27,270000],"nice":false,"range":[65,191]},"axis":{"title":"CD42b FITC-A","values":[30,40,50,60,70,80,90,100,200,300,400,500,600,700,800,900,1000,2000,3000,4000,5000,6000,7000,8000,9000,10000,20000,30000,40000,50000,60000,70000,80000,90000,100000,200000],"labelExpr":"{'100':'10²','1000':'10³','10000':'10⁴','100000':'10⁵'}[datum.value]||''","tickSize":{"condition":{"test":"indexof([100,1000,10000,100000],datum.value)>=0","value":4},"value":2}}},
"y":{"field":"y","type":"quantitative","scale":{"type":"log","domain":[30,285000],"nice":false,"range":[111,0]},"axis":{"title":"CD31 PE-A","offset":-65,"labelAngle":-90,"labelAlign":"center","labelBaseline":"bottom","values":[30,40,50,60,70,80,90,100,200,300,400,500,600,700,800,900,1000,2000,3000,4000,5000,6000,7000,8000,9000,10000,20000,30000,40000,50000,60000,70000,80000,90000,100000,200000],"labelExpr":"{'100':'10²','1000':'10³','10000':'10⁴','100000':'10⁵'}[datum.value]||''","tickSize":{"condition":{"test":"indexof([100,1000,10000,100000],datum.value)>=0","value":4},"value":2}}}},
"layer":[{"data":{"name":"pD"},"mark":{"type":"square","size":2},"encoding":{"fill":{"field":"g","scale":{"domain":["b","g","k","l","m","o","p","s"]},"legend":null}}},{"data":{"name":"gD"},"mark":{"type":"rect","fillOpacity":0,"strokeWidth":1},"encoding":{"x2":{"field":"x2"},"y2":{"field":"y2"},"stroke":{"field":"k","scale":{"domain":["f","g","q"],"range":["#666","#555","#aaa"]},"legend":null}}},{"data":{"name":"tD"},"mark":{"type":"text","fontSize":6.5,"color":"#444"},"encoding":{"text":{"field":"t"}}},{"data":{"values":[{"x":1300,"y":400000,"t":"YS-PBS"}]},"mark":{"type":"text","fontSize":7,"color":"#444"},"encoding":{"text":{"field":"t"}}}]},
{"width":191,"height":127,"title":{"text":"F","dx":13,"dy":13},
"encoding":{"x":{"field":"x","type":"quantitative","scale":{"type":"log","domain":[27,270000],"nice":false,"range":[63,191]},"axis":{"title":"CD42b FITC-A","values":[30,40,50,60,70,80,90,100,200,300,400,500,600,700,800,900,1000,2000,3000,4000,5000,6000,7000,8000,9000,10000,20000,30000,40000,50000,60000,70000,80000,90000,100000,200000],"labelExpr":"{'100':'10²','1000':'10³','10000':'10⁴','100000':'10⁵'}[datum.value]||''","tickSize":{"condition":{"test":"indexof([100,1000,10000,100000],datum.value)>=0","value":4},"value":2}}},
"y":{"field":"y","type":"quantitative","scale":{"type":"log","domain":[30,285000],"nice":false,"range":[127,15]},"axis":{"title":"CD31 PE-A","offset":-63,"labelAngle":-90,"labelAlign":"center","labelBaseline":"bottom","values":[30,40,50,60,70,80,90,100,200,300,400,500,600,700,800,900,1000,2000,3000,4000,5000,6000,7000,8000,9000,10000,20000,30000,40000,50000,60000,70000,80000,90000,100000,200000],"labelExpr":"{'100':'10²','1000':'10³','10000':'10⁴','100000':'10⁵'}[datum.value]||''","tickSize":{"condition":{"test":"indexof([100,1000,10000,100000],datum.value)>=0","value":4},"value":2}}}},
"layer":[{"data":{"name":"pF"},"mark":{"type":"square","size":3},"encoding":{"fill":{"field":"g","scale":{"domain":["b","g","k","l","m","o","p","s"]},"legend":null}}},{"data":{"name":"gD"},"mark":{"type":"rect","fillOpacity":0,"strokeWidth":1},"encoding":{"x2":{"field":"x2"},"y2":{"field":"y2"},"stroke":{"field":"k","scale":{"domain":["f","g","q"],"range":["#666","#555","#aaa"]},"legend":null}}},{"data":{"name":"tD"},"mark":{"type":"text","fontSize":6.5,"color":"#444"},"encoding":{"text":{"field":"t"}}}]},
{"width":191,"height":136,"title":{"text":"H","dx":12,"dy":15},
"encoding":{"x":{"field":"x","type":"quantitative","scale":{"type":"log","domain":[27,270000],"nice":false,"range":[63,191]},"axis":{"title":"CD42b FITC-A","values":[30,40,50,60,70,80,90,100,200,300,400,500,600,700,800,900,1000,2000,3000,4000,5000,6000,7000,8000,9000,10000,20000,30000,40000,50000,60000,70000,80000,90000,100000,200000],"labelExpr":"{'100':'10²','1000':'10³','10000':'10⁴','100000':'10⁵'}[datum.value]||''","tickSize":{"condition":{"test":"indexof([100,1000,10000,100000],datum.value)>=0","value":4},"value":2}}},
"y":{"field":"y","type":"quantitative","scale":{"type":"log","domain":[30,285000],"nice":false,"range":[136,25]},"axis":{"title":"CD31 PE-A","offset":-63,"labelAngle":-90,"labelAlign":"center","labelBaseline":"bottom","values":[30,40,50,60,70,80,90,100,200,300,400,500,600,700,800,900,1000,2000,3000,4000,5000,6000,7000,8000,9000,10000,20000,30000,40000,50000,60000,70000,80000,90000,100000,200000],"labelExpr":"{'100':'10²','1000':'10³','10000':'10⁴','100000':'10⁵'}[datum.value]||''","tickSize":{"condition":{"test":"indexof([100,1000,10000,100000],datum.value)>=0","value":4},"value":2}}}},
"layer":[{"data":{"name":"pH"},"mark":{"type":"square","size":8},"encoding":{"fill":{"field":"g","scale":{"domain":["b","g","k","l","m","o","p","s"]},"legend":null}}},{"data":{"name":"gD"},"mark":{"type":"rect","fillOpacity":0,"strokeWidth":1},"encoding":{"x2":{"field":"x2"},"y2":{"field":"y2"},"stroke":{"field":"k","scale":{"domain":["f","g","q"],"range":["#666","#555","#aaa"]},"legend":null}}},{"data":{"name":"tD"},"mark":{"type":"text","fontSize":6.5,"color":"#444"},"encoding":{"text":{"field":"t"}}}]}
]}
]}
